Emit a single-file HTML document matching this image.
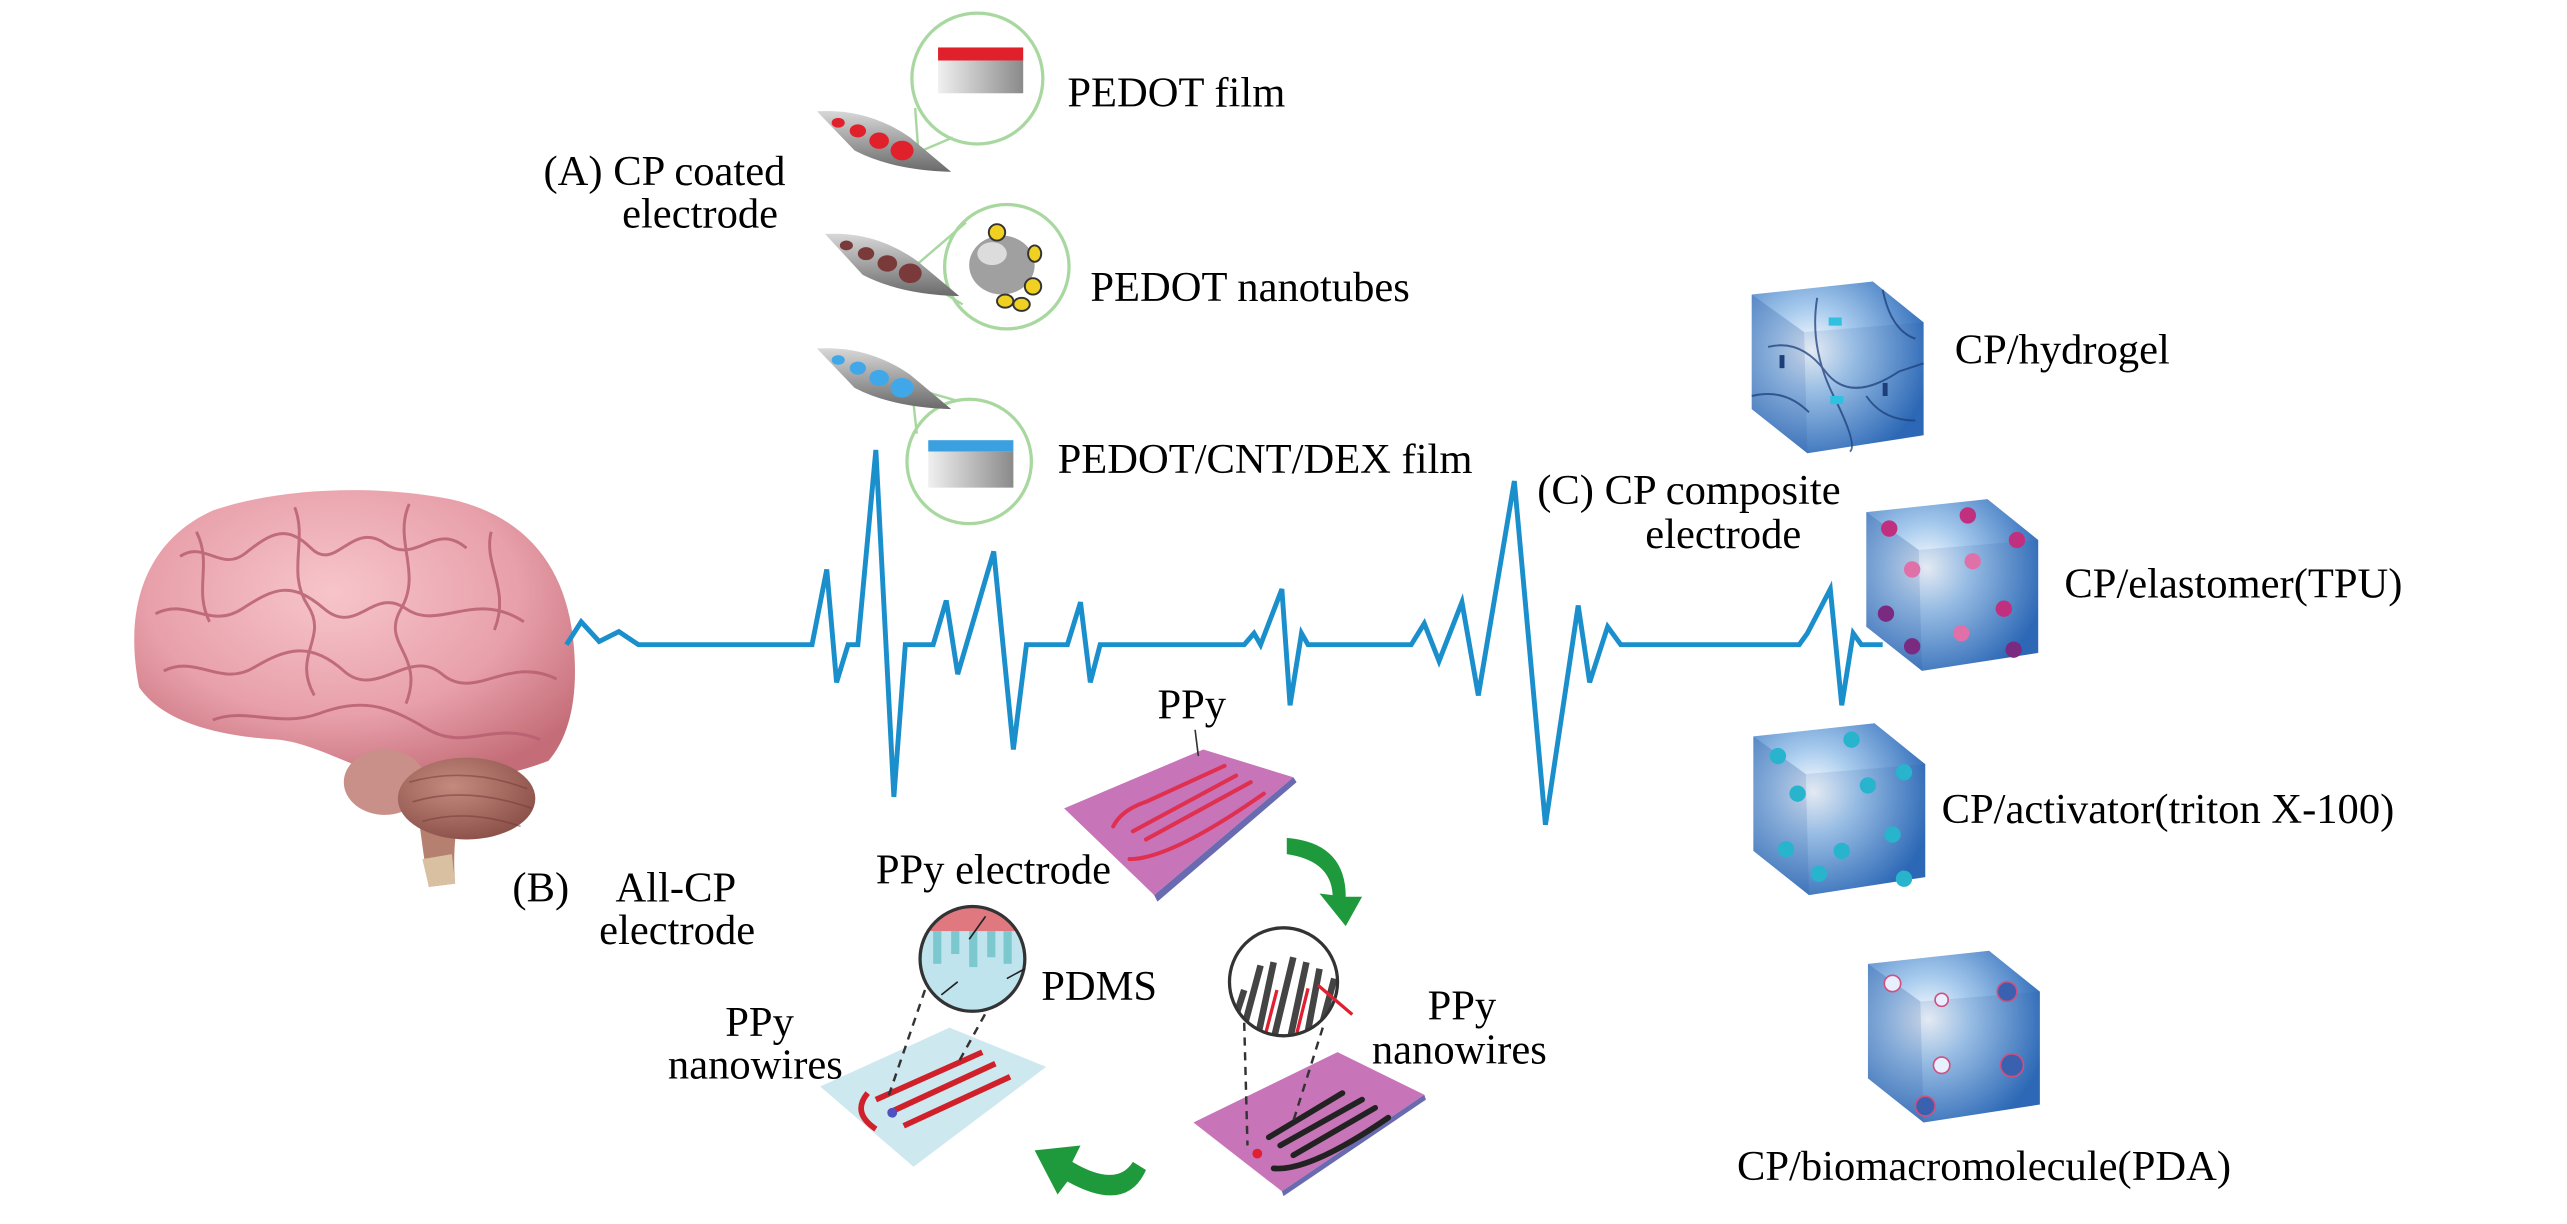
<!DOCTYPE html>
<html><head><meta charset="utf-8"><style>
html,body{margin:0;padding:0;background:#fff;}
svg{display:block;}
text{font-family:"Liberation Serif",serif;fill:#000;}
</style></head><body>
<svg width="2567" height="1224" viewBox="0 0 1568 748" preserveAspectRatio="none" xmlns="http://www.w3.org/2000/svg">
<defs>
<radialGradient id="brain" cx="45%" cy="35%" r="70%"><stop offset="0" stop-color="#f7c5cb"/><stop offset="0.6" stop-color="#e8a0aa"/><stop offset="1" stop-color="#c46d78"/></radialGradient>
<radialGradient id="cereb" cx="40%" cy="35%" r="70%"><stop offset="0" stop-color="#c58a7e"/><stop offset="1" stop-color="#8a5048"/></radialGradient>
<radialGradient id="cubeG" cx="0.35" cy="0.4" r="0.7"><stop offset="0" stop-color="#ffffff"/><stop offset="0.35" stop-color="#a9ccee"/><stop offset="1" stop-color="#2f6cba"/></radialGradient>
<linearGradient id="gray" x1="0" y1="0" x2="1" y2="0"><stop offset="0" stop-color="#f0f0f0"/><stop offset="1" stop-color="#8a8a8a"/></linearGradient>
<linearGradient id="probe" x1="0" y1="0" x2="0" y2="1"><stop offset="0" stop-color="#d8d8d8"/><stop offset="1" stop-color="#6a6a6a"/></linearGradient>
<g id="cube">
<path d="M0,8 L74,0 L105,25 L105,94 L34,105 L0,78 Z" fill="url(#cubeG)"/>
<path d="M0,8 L32,31 L34,105 L0,78 Z" fill="#1e4f9a" opacity="0.25"/>
<path d="M105,25 L105,94 L34,105 L32,31 Z" fill="#1e4f9a" opacity="0.12"/>
</g>
</defs>

<!-- Brain -->
<path d="M85,420 C75,370 90,330 130,312 C170,298 230,296 275,305 C320,315 345,345 350,390 C354,425 348,450 335,465 C300,478 270,480 245,476 C215,470 195,455 170,452 C135,450 100,442 85,420 Z" fill="url(#brain)"/>
<g fill="none" stroke="#b86070" stroke-width="1.8" opacity="0.85">
<path d="M110,340 C125,330 135,350 150,338 S175,320 190,335 S215,318 235,332 S265,318 285,335"/>
<path d="M95,375 C115,365 128,385 148,372 S178,355 198,372 S228,358 248,372 S290,360 320,380"/>
<path d="M100,410 C120,400 135,420 155,408 S190,392 210,410 S250,395 270,412 S310,400 340,415"/>
<path d="M130,440 C150,432 170,445 195,436 S235,430 260,445 S300,440 330,452"/>
<path d="M180,310 C188,330 175,350 188,370 S178,400 192,425"/>
<path d="M250,308 C240,330 258,350 245,372 S260,400 248,430"/>
<path d="M300,325 C295,345 312,360 302,385"/>
<path d="M120,325 C130,345 118,360 128,380"/>
</g>
<path d="M252,470 C256,500 258,520 262,542 L278,540 C276,515 280,495 285,478 Z" fill="#b58070"/>
<path d="M258,525 L262,542 L278,540 L276,522 Z" fill="#d8c0a0"/>
<ellipse cx="235" cy="478" rx="25" ry="20" fill="#c89088"/>
<ellipse cx="285" cy="488" rx="42" ry="25" fill="url(#cereb)"/>
<g fill="none" stroke="#6e3a35" stroke-width="1" opacity="0.5"><path d="M250,478 Q285,468 322,482"/><path d="M252,490 Q285,480 325,494"/><path d="M258,502 Q285,494 318,505"/></g>

<!-- ECG line -->
<polyline fill="none" stroke="#1a8fcc" stroke-width="3" stroke-linejoin="miter" points="346,394 355,380 366,392 378,386 390,394 496,394 505,348 511,417 518,394 524,394 535,275 546,487 553,394 570,394 578,367 585,412 607,337 619,458 627,394 652,394 660,368 666,417 672,394 760,394 766,387 770,394 783,360 788,431 795,387 799,394 862,394 870,381 879,404 893,368 903,425 925,294 944,504 964,370 971,417 982,383 990,394 1099,394 1104,387 1118,360 1125,431 1132,387 1137,394 1150,394"/>

<!-- (A) probes and circles -->
<g>
<circle cx="597" cy="48" r="40" fill="#fff" stroke="#a8d8a0" stroke-width="2"/>
<g stroke="#a8d8a0" stroke-width="1.5"><line x1="561" y1="93" x2="559" y2="66"/><line x1="561" y1="93" x2="582" y2="84"/></g>
<rect x="573" y="29" width="52" height="8" fill="#e0202a"/>
<rect x="573" y="37" width="52" height="20" fill="url(#gray)"/>
<path d="M499,68 Q530,66 556,84 L581,105 Q545,104 522,92 Z" fill="url(#probe)"/>
<g fill="#e0202a"><ellipse cx="512" cy="75" rx="4" ry="3"/><ellipse cx="524" cy="80" rx="5" ry="4"/><ellipse cx="537" cy="86" rx="6" ry="5"/><ellipse cx="551" cy="92" rx="7" ry="6"/></g>

<circle cx="615" cy="163" r="38" fill="#fff" stroke="#a8d8a0" stroke-width="2"/>
<g stroke="#a8d8a0" stroke-width="1.5"><line x1="555" y1="166" x2="590" y2="136"/><line x1="555" y1="166" x2="588" y2="186"/></g>
<path d="M504,143 Q535,141 561,160 L586,181 Q550,180 527,168 Z" fill="url(#probe)"/>
<g fill="#7a3a3a"><ellipse cx="517" cy="150" rx="4" ry="3"/><ellipse cx="529" cy="155" rx="5" ry="4"/><ellipse cx="542" cy="161" rx="6" ry="5"/><ellipse cx="556" cy="167" rx="7" ry="6"/></g>
<ellipse cx="612" cy="162" rx="20" ry="18" fill="#a0a0a0"/>
<ellipse cx="606" cy="155" rx="9" ry="7" fill="#dcdcdc"/>
<g fill="#f0d020" stroke="#333" stroke-width="1.2"><ellipse cx="609" cy="142" rx="5" ry="5"/><ellipse cx="632" cy="155" rx="4" ry="5"/><ellipse cx="631" cy="175" rx="5" ry="5"/><ellipse cx="614" cy="184" rx="5" ry="4"/><ellipse cx="624" cy="186" rx="5" ry="4"/></g>

<circle cx="592" cy="282" r="38" fill="#fff" stroke="#a8d8a0" stroke-width="2"/>
<g stroke="#a8d8a0" stroke-width="1.5"><line x1="557" y1="237" x2="560" y2="265"/><line x1="557" y1="237" x2="585" y2="245"/></g>
<path d="M499,213 Q530,211 556,229 L581,250 Q545,249 522,237 Z" fill="url(#probe)"/>
<g fill="#40a8e8"><ellipse cx="512" cy="220" rx="4" ry="3"/><ellipse cx="524" cy="225" rx="5" ry="4"/><ellipse cx="537" cy="231" rx="6" ry="5"/><ellipse cx="551" cy="237" rx="7" ry="6"/></g>
<rect x="567" y="269" width="52" height="7" fill="#3aa0e0"/>
<rect x="567" y="276" width="52" height="22" fill="url(#gray)"/>
</g>

<!-- Cubes -->
<g transform="translate(1070,172)"><use href="#cube"/>
<g fill="none" stroke="#1c3f7a" stroke-width="1.2" opacity="0.75"><path d="M10,40 Q30,35 45,55 T90,55 L105,50"/><path d="M40,10 Q35,40 50,70 T60,104"/><path d="M0,70 Q20,65 35,80"/><path d="M70,70 Q80,85 100,85"/><path d="M80,5 Q85,30 100,35"/></g>
<g fill="#30c0e0"><rect x="47" y="22" width="8" height="5"/><rect x="48" y="70" width="8" height="5"/></g>
<g fill="#1c3f7a"><rect x="17" y="45" width="3" height="8"/><rect x="80" y="62" width="3" height="8"/></g>
</g>
<g transform="translate(1140,305)"><use href="#cube"/>
<g fill="#c0307f"><circle cx="14" cy="18" r="5"/><circle cx="62" cy="10" r="5"/><circle cx="92" cy="25" r="5"/><circle cx="28" cy="43" r="5" fill="#e070a8"/><circle cx="65" cy="38" r="5" fill="#e070a8"/><circle cx="12" cy="70" r="5" fill="#7a2a80"/><circle cx="84" cy="67" r="5"/><circle cx="58" cy="82" r="5" fill="#e070a8"/><circle cx="28" cy="90" r="5" fill="#7a2a80"/><circle cx="90" cy="92" r="5" fill="#7a2a80"/></g>
</g>
<g transform="translate(1071,442)"><use href="#cube"/>
<g fill="#28b4cc"><circle cx="15" cy="20" r="5"/><circle cx="60" cy="10" r="5"/><circle cx="92" cy="30" r="5"/><circle cx="27" cy="43" r="5"/><circle cx="70" cy="38" r="5"/><circle cx="20" cy="77" r="5"/><circle cx="54" cy="78" r="5"/><circle cx="85" cy="68" r="5"/><circle cx="40" cy="92" r="5"/><circle cx="92" cy="95" r="5"/></g>
</g>
<g transform="translate(1141,581)"><use href="#cube"/>
<g fill="#e8f0ff" stroke="#d05080" stroke-width="1"><circle cx="15" cy="20" r="5"/><circle cx="45" cy="30" r="4"/><circle cx="85" cy="25" r="6" fill="#3a60b0"/><circle cx="45" cy="70" r="5"/><circle cx="88" cy="70" r="7" fill="#3a60b0"/><circle cx="35" cy="95" r="6" fill="#3a60b0"/></g>
</g>

<!-- PPy plates -->
<path d="M650,494 L735,458 L790,475 L705,547 Z" fill="#c774b8"/>
<path d="M705,547 L790,475 L792,478 L707,551 Z" fill="#6a6ab0"/>
<g fill="none" stroke="#e03050" stroke-width="2.5" stroke-linecap="round"><path d="M680,505 Q685,495 700,490 L748,468"/><path d="M692,508 L755,474"/><path d="M700,513 L764,478"/><path d="M690,525 Q715,525 772,485"/></g>
<line x1="730" y1="446" x2="732" y2="462" stroke="#333" stroke-width="1"/>

<path d="M729,686 L817,643 L870,669 L783,728 Z" fill="#c774b8"/>
<path d="M783,728 L870,669 L871,672 L784,731 Z" fill="#6a6ab0"/>
<g fill="none" stroke="#222" stroke-width="3.5" stroke-linecap="round"><path d="M775,695 L820,668"/><path d="M782,700 L832,672"/><path d="M790,706 L840,677"/><path d="M778,714 Q800,716 848,683"/></g>
<circle cx="768" cy="705" r="3" fill="#e02030"/>

<path d="M501,664 L580,628 L639,652 L558,713 Z" fill="#cde8ef"/>
<g fill="none" stroke="#d0202a" stroke-width="3.5" stroke-linejoin="round"><path d="M535,672 L600,643 M543,680 L608,650 M552,688 L617,658 M530,668 Q520,680 535,690"/></g>
<circle cx="545" cy="680" r="3" fill="#5050c0"/>

<!-- magnified circles -->
<g stroke="#333" stroke-width="1.5" stroke-dasharray="5,4" fill="none"><path d="M565,605 L542,672"/><path d="M606,612 L585,650"/><path d="M760,625 L762,700"/><path d="M808,628 L790,685"/></g>
<clipPath id="c1"><circle cx="594" cy="586" r="32"/></clipPath>
<g clip-path="url(#c1)"><rect x="560" y="552" width="70" height="70" fill="#bfe4ee"/><rect x="560" y="552" width="70" height="17" fill="#e07880"/><g fill="#7cc8cf"><rect x="570" y="569" width="5" height="20"/><rect x="581" y="569" width="5" height="14"/><rect x="592" y="569" width="5" height="22"/><rect x="603" y="569" width="5" height="16"/><rect x="613" y="569" width="5" height="20"/></g></g>
<circle cx="594" cy="586" r="32" fill="none" stroke="#333" stroke-width="2"/>
<g stroke="#222" stroke-width="1"><line x1="602" y1="560" x2="592" y2="574"/><line x1="585" y1="600" x2="575" y2="608"/><line x1="615" y1="598" x2="626" y2="592"/></g>
<clipPath id="c2"><circle cx="784" cy="600" r="33"/></clipPath>
<g clip-path="url(#c2)"><rect x="750" y="566" width="70" height="70" fill="#fff"/><g stroke="#444" stroke-width="4"><path d="M758,635 L770,590"/><path d="M768,635 L778,588"/><path d="M778,635 L790,585"/><path d="M788,635 L798,588"/><path d="M798,635 L806,592"/><path d="M806,632 L815,598"/><path d="M752,630 L760,605"/></g><g stroke="#e02030" stroke-width="2"><path d="M773,632 L780,605"/><path d="M792,632 L799,604"/></g></g>
<circle cx="784" cy="600" r="33" fill="none" stroke="#333" stroke-width="2"/>
<line x1="805" y1="602" x2="826" y2="620" stroke="#e02030" stroke-width="2"/>

<!-- green arrows -->
<path d="M786,512 Q822,515 822,548 L832,548 L822,566 L806,546 L814,547 Q813,526 786,522 Z" fill="#1e9a3c"/>
<path d="M700,715 Q688,742 652,722 L646,730 L632,703 L660,700 L655,710 Q682,726 692,710 Z" fill="#1e9a3c"/>

<!-- Text -->
<g font-size="26">
<text x="332" y="113">(A) CP coated</text>
<text x="380" y="139">electrode</text>
<text x="652" y="65">PEDOT film</text>
<text x="666" y="184">PEDOT nanotubes</text>
<text x="646" y="289">PEDOT/CNT/DEX film</text>
<text x="939" y="308">(C) CP composite</text>
<text x="1005" y="335">electrode</text>
<text x="1194" y="222">CP/hydrogel</text>
<text x="1261" y="365">CP/elastomer(TPU)</text>
<text x="1186" y="503">CP/activator(triton X-100)</text>
<text x="1061" y="721">CP/biomacromolecule(PDA)</text>
<text x="313" y="551">(B)</text>
<text x="376" y="551">All-CP</text>
<text x="366" y="577">electrode</text>
<text x="707" y="439">PPy</text>
<text x="535" y="540">PPy electrode</text>
<text x="636" y="611">PDMS</text>
<text x="443" y="633">PPy</text>
<text x="408" y="659">nanowires</text>
<text x="872" y="623">PPy</text>
<text x="838" y="650">nanowires</text>
</g>
</svg>
</body></html>
